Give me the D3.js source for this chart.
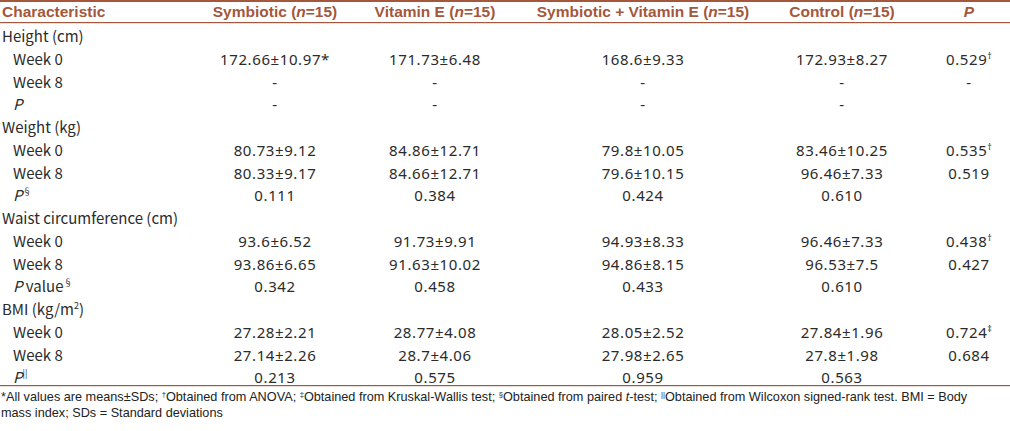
<!DOCTYPE html>
<html>
<head>
<meta charset="utf-8">
<script src="https://cdn.jsdelivr.net/npm/d3@7"></script>
<style>
html,body{margin:0;padding:0;background:#fff;}
svg{display:block;}
</style>
</head>
<body>
<svg id="chart" width="1010" height="431"></svg>
<script>
// ---- data ----
const headers = ["Characteristic", "Symbiotic ({i:n}=15)", "Vitamin E ({i:n}=15)", "Symbiotic + Vitamin E ({i:n}=15)", "Control ({i:n}=15)", "{i:P}"];
const rowLabels = [
  "Height (cm)", "Week 0", "Week 8", "{i:P}",
  "Weight (kg)", "Week 0", "Week 8", "{i:P}{s:§}",
  "Waist circumference (cm)", "Week 0", "Week 8", "{i:P} value{s:§}",
  "BMI (kg/m{s:2})", "Week 0", "Week 8", "{i:P}{s:||}"
];
const rowIsSection = [1,0,0,0, 1,0,0,0, 1,0,0,0, 1,0,0,0];
const symbiotic = ["", "172.66±10.97*", "-", "-", "", "80.73±9.12", "80.33±9.17", "0.111", "", "93.6±6.52", "93.86±6.65", "0.342", "", "27.28±2.21", "27.14±2.26", "0.213"];
const vitaminE  = ["", "171.73±6.48", "-", "-", "", "84.86±12.71", "84.66±12.71", "0.384", "", "91.73±9.91", "91.63±10.02", "0.458", "", "28.77±4.08", "28.7±4.06", "0.575"];
const combined  = ["", "168.6±9.33", "-", "-", "", "79.8±10.05", "79.6±10.15", "0.424", "", "94.93±8.33", "94.86±8.15", "0.433", "", "28.05±2.52", "27.98±2.65", "0.959"];
const control   = ["", "172.93±8.27", "-", "-", "", "83.46±10.25", "96.46±7.33", "0.610", "", "96.46±7.33", "96.53±7.5", "0.610", "", "27.84±1.96", "27.8±1.98", "0.563"];
const pValues   = ["", "0.529{s:†}", "-", "", "", "0.535{s:†}", "0.519", "", "", "0.438{s:†}", "0.427", "", "", "0.724{s:‡}", "0.684", ""];
const footnotes = [
  "*All values are means±SDs; {s:†}Obtained from ANOVA; {s:‡}Obtained from Kruskal-Wallis test; {s:§}Obtained from paired {i:t}-test; {s:||}Obtained from Wilcoxon signed-rank test. BMI = Body",
  "mass index; SDs = Standard deviations"
];

// ---- layout ----
const brown = "#a4573a";
const textColor = "#2b2b2b";
const svg = d3.select("#chart");
const columns = [symbiotic, vitaminE, combined, control, pValues];
const colX = d3.scaleOrdinal().domain(d3.range(6)).range([2, 275, 435, 643, 842, 969]);
const rowY = d3.scalePoint().domain(d3.range(rowLabels.length)).range([37, 378]);

function rich(sel, str) {
  const re = /\{(i|s):([^}]*)\}/g;
  let last = 0, m;
  const parts = [];
  while ((m = re.exec(str)) !== null) {
    if (m.index > last) parts.push({t: str.slice(last, m.index), k: "n"});
    parts.push({t: m[2], k: m[1]});
    last = re.lastIndex;
  }
  if (last < str.length) parts.push({t: str.slice(last), k: "n"});
  parts.forEach(p => {
    const ts = sel.append("tspan").text(p.t);
    if (p.k === "i") ts.attr("font-style", "italic");
    if (p.k === "s") { ts.attr("baseline-shift", "super").attr("font-size", "0.6em").attr("letter-spacing", 0); }
  });
}

// lines
svg.append("rect").attr("x", 0).attr("y", 0).attr("width", 1010).attr("height", 2).attr("fill", brown);
svg.append("rect").attr("x", 0).attr("y", 22).attr("width", 1010).attr("height", 1.2).attr("fill", brown);
svg.append("rect").attr("x", 0).attr("y", 385).attr("width", 1010).attr("height", 1.2).attr("fill", brown);

// header
const hdr = svg.append("g").attr("font-family", "'Liberation Sans', Arial, sans-serif")
  .attr("font-weight", "bold").attr("font-size", 15.5).attr("fill", brown);
headers.forEach((h, i) => {
  const t = hdr.append("text").attr("x", colX(i)).attr("y", 12).attr("dy", "0.35em")
    .attr("text-anchor", i === 0 ? "start" : "middle");
  rich(t, h);
});

// body labels
const body = svg.append("g").attr("font-family", "'Noto Sans CJK JP', 'Noto Sans', sans-serif")
  .attr("font-size", 15).attr("fill", textColor);
rowLabels.forEach((lab, r) => {
  const t = body.append("text").attr("x", rowIsSection[r] ? colX(0) : colX(0) + 11)
    .attr("y", rowY(r)).attr("dy", "0.35em");
  rich(t, lab);
});
// body values
const vals = svg.append("g").attr("font-family", "'Noto Sans', 'DejaVu Sans', sans-serif")
  .attr("font-size", 15).attr("fill", textColor);
columns.forEach((col, c) => {
  col.forEach((v, r) => {
    if (!v) return;
    const t = vals.append("text").attr("x", colX(c + 1)).attr("y", rowY(r)).attr("dy", "0.35em")
      .attr("text-anchor", "middle").attr("letter-spacing", 0.6);
    rich(t, v);
  });
});

// footnotes
const foot = svg.append("g").attr("font-family", "'Liberation Sans', Arial, sans-serif")
  .attr("font-size", 12.7).attr("fill", "#222");
footnotes.forEach((f, i) => {
  const t = foot.append("text").attr("x", 1).attr("y", 397 + i * 16).attr("dy", "0.35em");
  rich(t, f);
});
</script>
</body>
</html>
